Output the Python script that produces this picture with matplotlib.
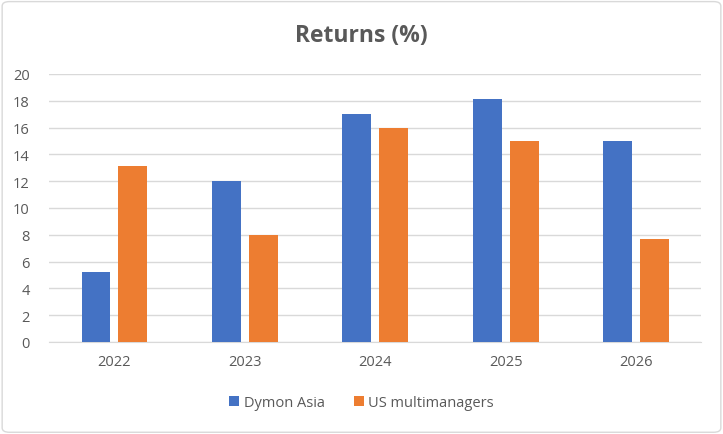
import matplotlib
matplotlib.use("Agg")
import matplotlib.pyplot as plt
import numpy as np
from matplotlib.patches import FancyBboxPatch

categories = ["2022", "2023", "2024", "2025", "2026"]
dymon_asia = [5.2, 12.0, 17.0, 18.1, 15.0]
us_multimanagers = [13.1, 8.0, 16.0, 15.0, 7.7]
series_names = ["Dymon Asia", "US multimanagers"]
yticks = [0, 2, 4, 6, 8, 10, 12, 14, 16, 18, 20]

plt.rcParams['font.family'] = ['Open Sans', 'DejaVu Sans']
txt = '#595959'

fig = plt.figure(figsize=(7.23, 4.35), dpi=100)
fig.patch.set_facecolor('white')
border = FancyBboxPatch((0.003, 0.004), 0.994, 0.99, boxstyle="round,pad=0,rounding_size=0.01",
                        transform=fig.transFigure, facecolor='white', edgecolor='#d9d9d9',
                        linewidth=1, zorder=-10)
fig.patches.append(border)

ax = fig.add_axes([0.068, 0.2115, 0.902, 0.6161])
ax.set_facecolor('none')
x = np.arange(len(categories))
w = 0.222
gap = 0.06
off = (w + gap) / 2
ax.bar(x - off, dymon_asia, w, color='#4472c4', label=series_names[0], zorder=3)
ax.bar(x + off, us_multimanagers, w, color='#ed7d31', label=series_names[1], zorder=3)

ax.set_xlim(-0.5, len(categories) - 0.5)
ax.set_ylim(0, 20)
ax.set_yticks(yticks)
ax.set_xticks(x)
ax.set_xticklabels(categories)
ax.grid(axis='y', color='#d9d9d9', linewidth=1, zorder=0)
for s in ['top', 'right', 'left']:
    ax.spines[s].set_visible(False)
ax.spines['bottom'].set_color('#d9d9d9')
ax.tick_params(axis='both', length=0, colors=txt, labelsize=10.5)
ax.tick_params(axis='y', pad=14)
ax.tick_params(axis='x', pad=9)

fig.text(0.5, 0.918, "Returns (%)", ha='center', va='center', fontsize=16.5, fontweight='bold', color=txt)

leg = fig.legend(loc='center', bbox_to_anchor=(0.5, 0.073), ncol=2, frameon=False,
                 fontsize=10.5, handlelength=0.7, handleheight=0.7, handletextpad=0.3, columnspacing=2.0)
for t in leg.get_texts():
    t.set_color(txt)

fig.savefig("out.png", dpi=100)
